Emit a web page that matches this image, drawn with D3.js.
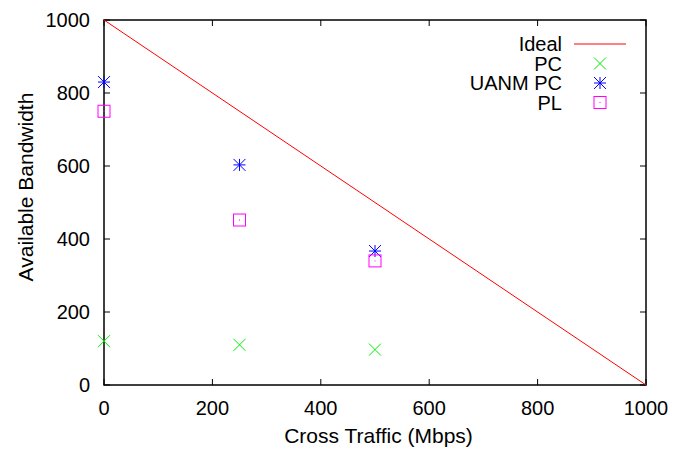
<!DOCTYPE html>
<html><head><meta charset="utf-8">
<script src="https://cdn.jsdelivr.net/npm/d3@7"></script>
<style>body{margin:0;background:#fff}svg{font-family:"Liberation Sans",Arial,sans-serif}</style>
</head><body>
<svg id="c" width="686" height="450"></svg>
<script>
const xTicks = [0, 200, 400, 600, 800, 1000];
const yTicks = [0, 200, 400, 600, 800, 1000];
const crossTraffic = [0, 250, 500];
const idealX = [0, 1000];
const idealY = [1000, 0];
const pcValues = [120, 110, 97];
const uanmValues = [830, 603, 367];
const plValues = [750, 452, 340];
const seriesNames = ["Ideal", "PC", "UANM PC", "PL"];

const svg = d3.select("#c");
const L = 104, R = 646, T = 20, B = 385;
const x = d3.scaleLinear().domain([0, 1000]).range([L, R]);
const y = d3.scaleLinear().domain([0, 1000]).range([B, T]);

// ticks (inward, mirrored)
const tl = 6;
const g = svg.append("g").attr("stroke", "#000").attr("stroke-width", 1);
xTicks.forEach(v => {
  g.append("line").attr("x1", x(v)).attr("x2", x(v)).attr("y1", B).attr("y2", B - tl);
  g.append("line").attr("x1", x(v)).attr("x2", x(v)).attr("y1", T).attr("y2", T + tl);
});
yTicks.forEach(v => {
  g.append("line").attr("x1", L).attr("x2", L + tl).attr("y1", y(v)).attr("y2", y(v));
  g.append("line").attr("x1", R).attr("x2", R - tl).attr("y1", y(v)).attr("y2", y(v));
});
svg.append("rect").attr("x", L).attr("y", T).attr("width", R - L).attr("height", B - T)
  .attr("fill", "none").attr("stroke", "#000").attr("stroke-width", 1.5);

svg.append("g").selectAll("text").data(xTicks).join("text")
  .attr("x", d => x(d)).attr("y", 414.5).attr("text-anchor", "middle")
  .attr("font-size", 20).text(d => d);
svg.append("g").selectAll("text").data(yTicks).join("text")
  .attr("x", 90).attr("y", d => y(d) + 7).attr("text-anchor", "end")
  .attr("font-size", 20).text(d => d);

svg.append("text").attr("x", 378.5).attr("y", 442.5).attr("text-anchor", "middle")
  .attr("font-size", 21).text("Cross Traffic (Mbps)");
svg.append("text").attr("transform", "translate(33,187) rotate(-90)").attr("text-anchor", "middle")
  .attr("font-size", 21).text("Available Bandwidth");

// Ideal line
svg.append("path").datum(idealX.map((v, i) => [v, idealY[i]]))
  .attr("d", d3.line().x(d => x(d[0])).y(d => y(d[1])))
  .attr("stroke", "#ff0000").attr("fill", "none").attr("stroke-width", 1);

const s = 6;
function cross(gg, cx, cy, col) {
  gg.append("path").attr("d", `M${cx - s},${cy - s}L${cx + s},${cy + s}M${cx - s},${cy + s}L${cx + s},${cy - s}`)
    .attr("stroke", col).attr("stroke-width", 1).attr("fill", "none");
}
function star(gg, cx, cy, col) {
  gg.append("path").attr("d", `M${cx - s},${cy - s}L${cx + s},${cy + s}M${cx - s},${cy + s}L${cx + s},${cy - s}M${cx - s},${cy}L${cx + s},${cy}M${cx},${cy - s}L${cx},${cy + s}`)
    .attr("stroke", col).attr("stroke-width", 1).attr("fill", "none");
}
function box(gg, cx, cy, col) {
  gg.append("rect").attr("x", cx - s).attr("y", cy - s).attr("width", 2 * s).attr("height", 2 * s)
    .attr("stroke", col).attr("stroke-width", 1).attr("fill", "none");
  gg.append("rect").attr("x", cx - 0.5).attr("y", cy - 0.5).attr("width", 1).attr("height", 1).attr("fill", col);
}
const green = "#00ee00", blue = "#0000ff", magenta = "#ff00ff";
const pts = svg.append("g");
crossTraffic.forEach((v, i) => cross(pts, x(v), y(pcValues[i]), green));
crossTraffic.forEach((v, i) => star(pts, x(v), y(uanmValues[i]), blue));
crossTraffic.forEach((v, i) => box(pts, x(v), y(plValues[i]), magenta));

// legend
const lg = svg.append("g");
const rows = [44, 63.5, 83, 102.5];
seriesNames.forEach((n, i) => {
  lg.append("text").attr("x", 562).attr("y", rows[i] + 7).attr("text-anchor", "end")
    .attr("font-size", 20).text(n);
});
lg.append("line").attr("x1", 574).attr("x2", 626).attr("y1", rows[0]).attr("y2", rows[0]).attr("stroke", "#ff0000");
cross(lg, 600, rows[1], green);
star(lg, 600, rows[2], blue);
box(lg, 600, rows[3], magenta);
</script>
</body></html>
